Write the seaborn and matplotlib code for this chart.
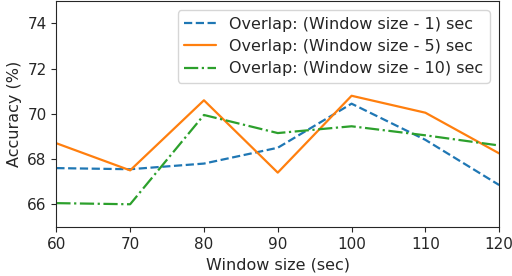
import matplotlib
matplotlib.use('Agg')
import matplotlib.pyplot as plt
import seaborn as sns
import pandas as pd

# Данные с графика
window_sizes = [60, 70, 80, 90, 100, 110, 120]
acc_overlap_1 = [67.6, 67.55, 67.8, 68.5, 70.45, 68.85, 66.85]
acc_overlap_5 = [68.7, 67.5, 70.6, 67.4, 70.8, 70.05, 68.25]
acc_overlap_10 = [66.05, 66.0, 69.95, 69.15, 69.45, 69.05, 68.6]
labels = ['Overlap: (Window size - 1) sec',
          'Overlap: (Window size - 5) sec',
          'Overlap: (Window size - 10) sec']

df = pd.DataFrame({
    'window': window_sizes * 3,
    'acc': acc_overlap_1 + acc_overlap_5 + acc_overlap_10,
    'series': [labels[0]] * 7 + [labels[1]] * 7 + [labels[2]] * 7,
})

sns.set_style('ticks')
plt.rcParams['font.family'] = ['DejaVu Sans']

fig, ax = plt.subplots(figsize=(5.12, 2.76), dpi=100)
styles = ['--', '-', '-.']
colors = sns.color_palette('tab10')[:3]
for lab, ls, c in zip(labels, styles, colors):
    d = df[df['series'] == lab]
    sns.lineplot(data=d, x='window', y='acc', ax=ax, color=c, linestyle=ls,
                 linewidth=1.6, label=lab)

ax.set_xlim(60, 120)
ax.set_ylim(65, 75)
ax.set_yticks([66, 68, 70, 72, 74])
ax.set_xlabel('Window size (sec)', fontsize=11.5)
ax.set_ylabel('Accuracy (%)', fontsize=11.5)
ax.tick_params(labelsize=11)
ax.legend(loc='upper right', fontsize=11.5, frameon=True, labelspacing=0.45,
          borderaxespad=0.6)

plt.subplots_adjust(left=0.11, right=0.975, top=0.997, bottom=0.178)
plt.savefig('out.png')
